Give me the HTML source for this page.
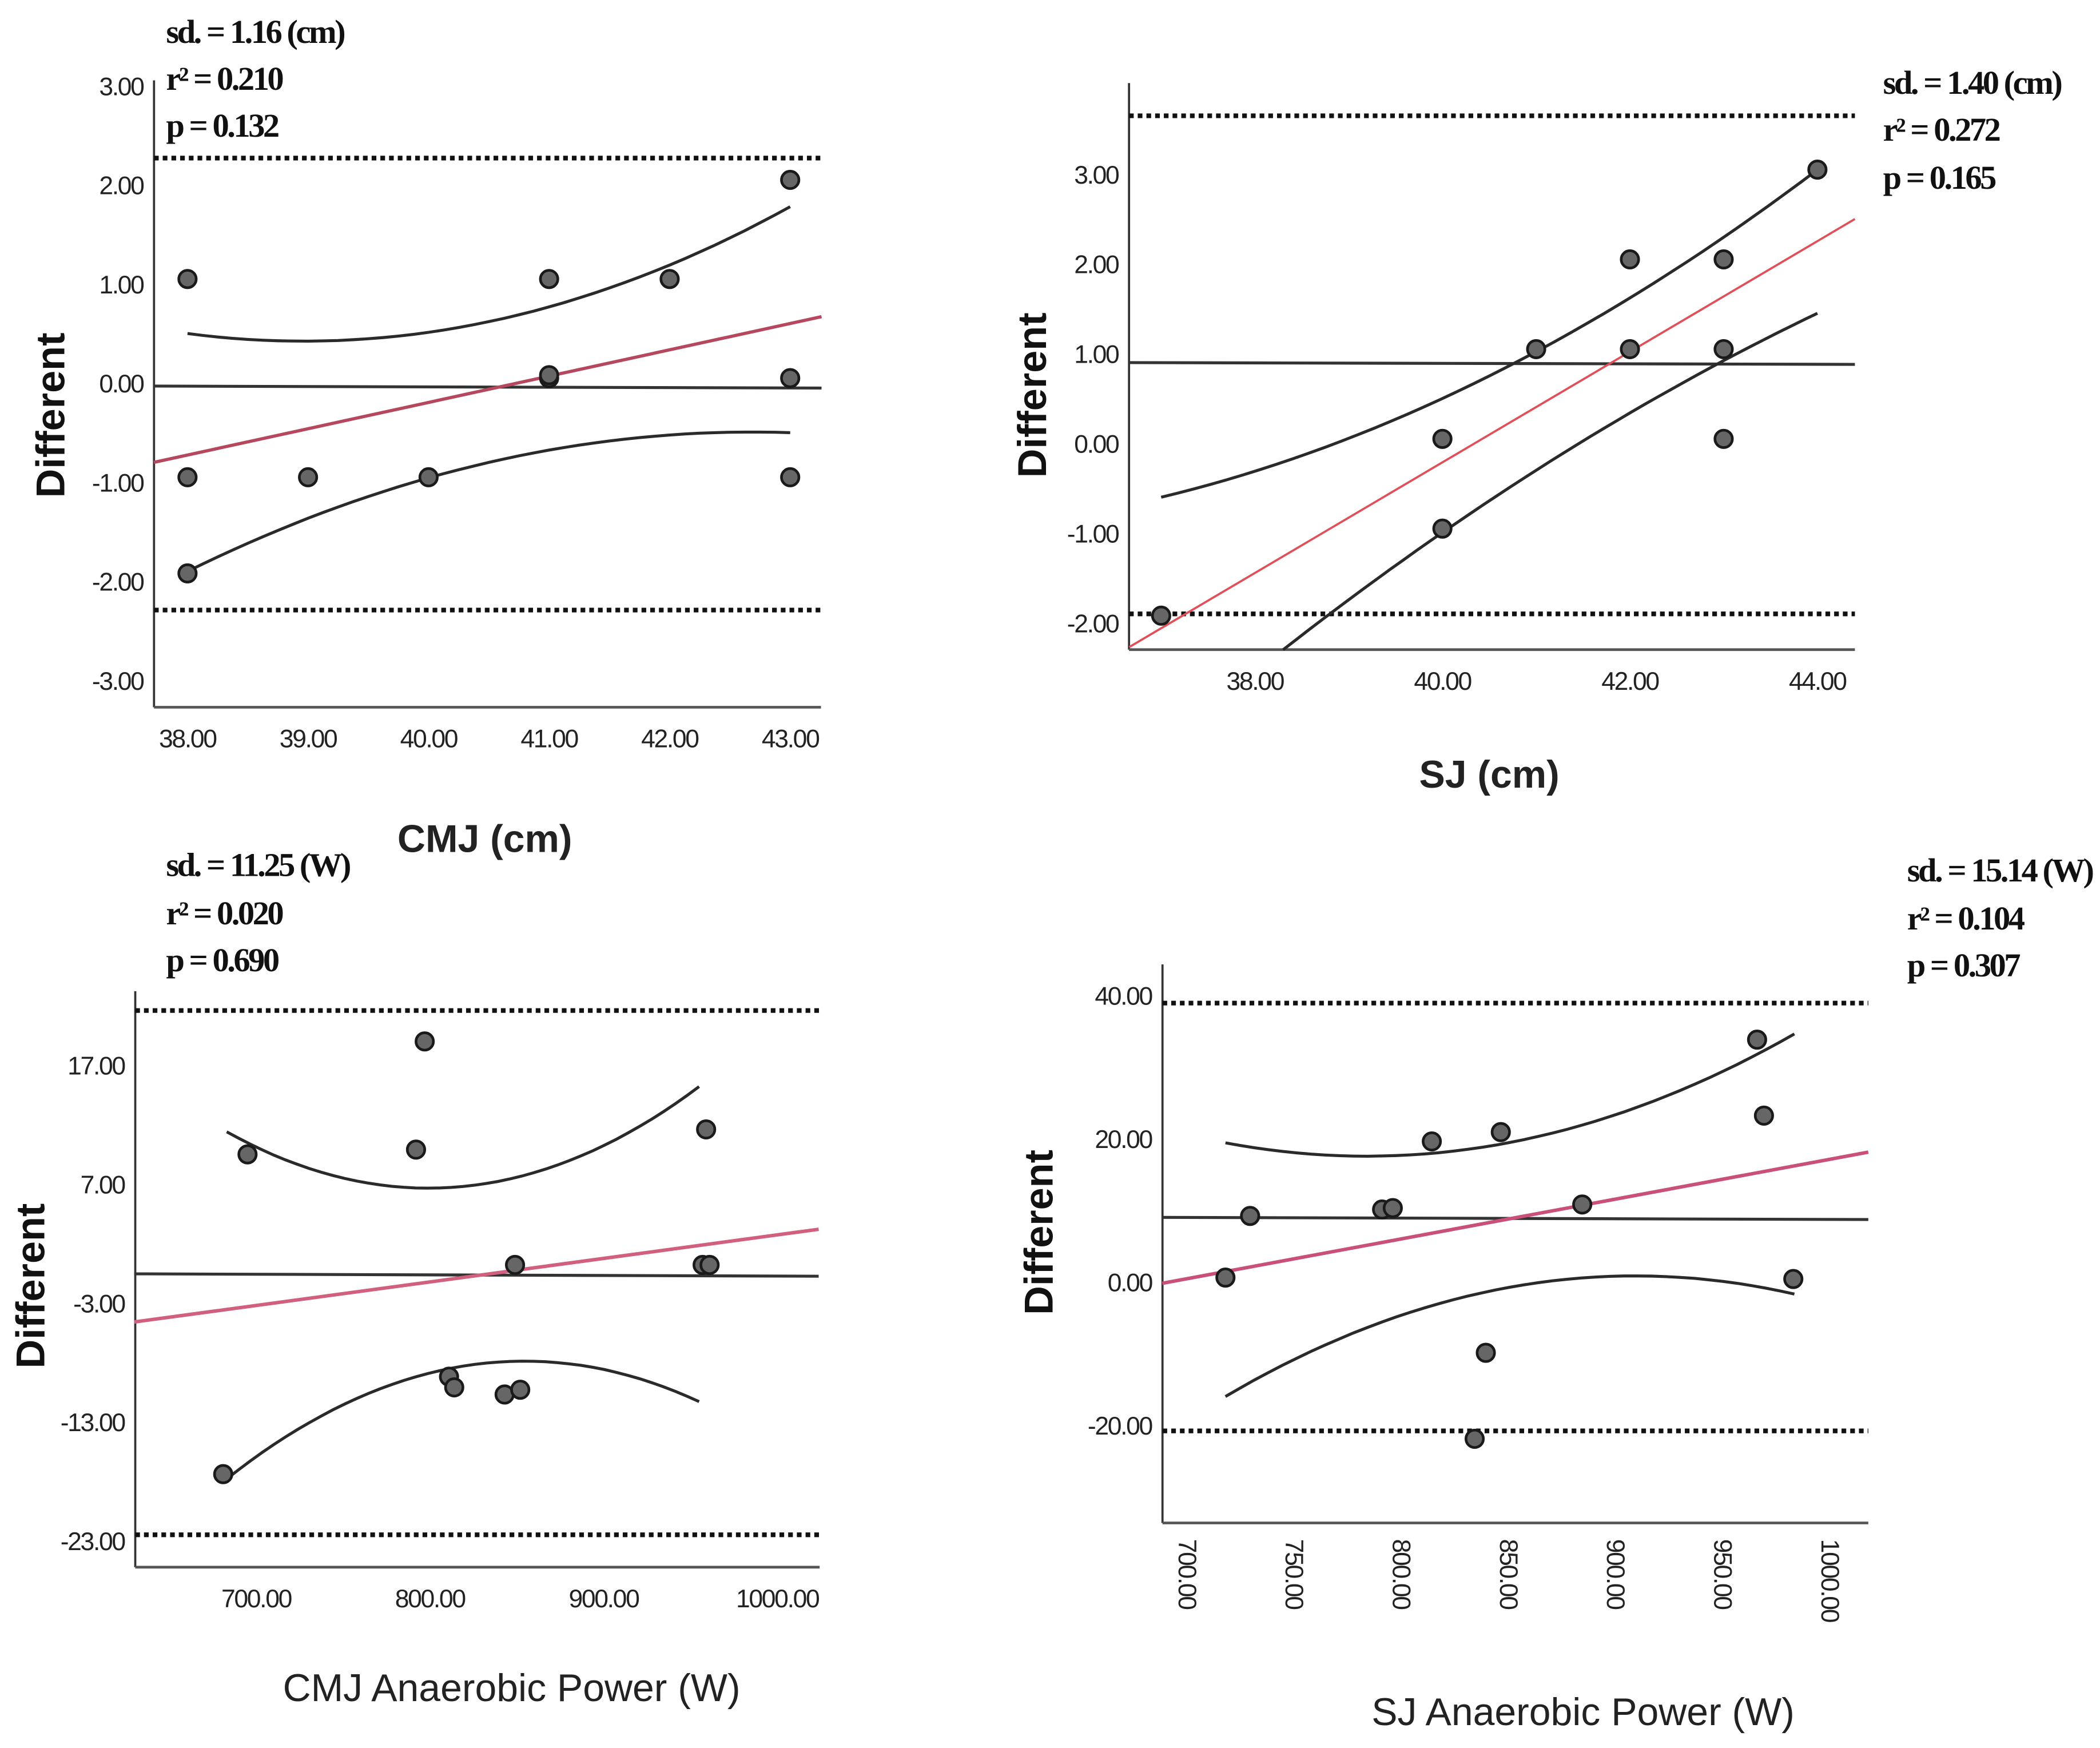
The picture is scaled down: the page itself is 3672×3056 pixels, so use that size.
<!DOCTYPE html>
<html><head><meta charset="utf-8"><style>
html,body{margin:0;padding:0;background:#fff;}
svg{display:block;}
.tick{font-family:"Liberation Sans",sans-serif;font-size:19px;fill:#222;letter-spacing:-1px;}
.stat{font-family:"Liberation Serif",serif;font-size:25px;font-weight:bold;fill:#111;letter-spacing:-1.5px;}
.ytitle{font-family:"Liberation Sans",sans-serif;font-size:30px;font-weight:bold;fill:#111;}
.xtitle{font-family:"Liberation Sans",sans-serif;font-size:29px;fill:#222;}
</style></head><body>
<svg id="chart" width="3672" height="3056" viewBox="0 0 1568 1305" preserveAspectRatio="none" xmlns="http://www.w3.org/2000/svg"></svg>
<script>
// ---- Panel 1: CMJ (cm)
const p1X=[38,38,38,39,40,41,41,41,42,43,43,43];
const p1Y=[1.05,-0.95,-1.92,-0.95,-0.95,1.05,0.05,0.08,1.05,2.05,0.05,-0.95];
const p1XTicks=[38,39,40,41,42,43];
const p1YTicks=[3,2,1,0,-1,-2,-3];
const p1Limits=[2.27,-2.29];
const p1Red=[[37.72,-0.8],[43.26,0.67]];
const p1Mean=[[37.72,-0.03],[43.26,-0.05]];
const p1Upper=[[38,0.5],[40.5,0.62],[43,1.78]];
const p1Lower=[[38,-1.9],[40.5,-0.8],[43,-0.5]];
// ---- Panel 2: SJ (cm)
const p2X=[37,40,40,41,42,42,43,43,43,44];
const p2Y=[-1.92,0.05,-0.95,1.05,2.05,1.05,2.05,1.05,0.05,3.05];
const p2XTicks=[38,40,42,44];
const p2YTicks=[3,2,1,0,-1,-2];
const p2Limits=[3.65,-1.9];
const p2Red=[[36.66,-2.27],[44.4,2.5]];
const p2Mean=[[36.66,0.9],[44.4,0.88]];
const p2Upper=[[37,-0.6],[40,0.5],[44,3.05]];
const p2Lower=[[38.3,-2.3],[41,-0.3],[44,1.45]];
// ---- Panel 3: CMJ Anaerobic Power (W)
const p3X=[681,695,792,797,811,814,843,852,849,957,961,959];
const p3Y=[-17.4,9.5,9.9,19.0,-9.2,-10.1,-10.7,-10.3,0.2,0.2,0.2,11.6];
const p3XTicks=[700,800,900,1000];
const p3YTicks=[17,7,-3,-13,-23];
const p3Limits=[21.6,-22.5];
const p3Red=[[629.8,-4.6],[1023.8,3.2]];
const p3Mean=[[629.8,-0.55],[1023.8,-0.75]];
const p3Upper=[[683,11.4],[810,6.7],[955,15.2]];
const p3Lower=[[683,-17.8],[850,-7.9],[955,-11.3]];
// ---- Panel 4: SJ Anaerobic Power (W)
const p4X=[717.5,729,790.6,795.6,813.8,846,884,839,833.8,965.6,968.8,982.5];
const p4Y=[0.6,9.2,10.1,10.3,19.6,20.9,10.8,-9.9,-21.9,33.8,23.2,0.4];
const p4XTicks=[700,750,800,850,900,950,1000];
const p4YTicks=[40,20,0,-20];
const p4Limits=[38.9,-20.8];
const p4Red=[[688,-0.2],[1017.5,18.1]];
const p4Mean=[[688,9.0],[1017.5,8.7]];
const p4Upper=[[717.5,19.4],[808,17.8],[983,34.6]];
const p4Lower=[[717.5,-16],[895.6,0.75],[983,-1.7]];

const NS="http://www.w3.org/2000/svg";
const svg=document.getElementById('chart');
function mk(tag,attrs,parent){const e=document.createElementNS(NS,tag);for(const k in attrs)e.setAttribute(k,attrs[k]);(parent||svg).appendChild(e);return e;}
function txt(s,attrs,parent){const e=mk('text',attrs,parent);e.textContent=s;return e;}
function parab(pts){const[[x0,y0],[x1,y1],[x2,y2]]=pts;
 return x=>y0*(x-x1)*(x-x2)/((x0-x1)*(x0-x2))+y1*(x-x0)*(x-x2)/((x1-x0)*(x1-x2))+y2*(x-x0)*(x-x1)/((x2-x0)*(x2-x1));}

function panel(cfg){
 const g=mk('g',{});
 
 
 const sx=v=>cfg.px0+(v-cfg.vx0)*cfg.kx;
 const sy=v=>cfg.py0-(v-cfg.vy0)*cfg.ky;
 // axes
 const ya=mk('line',{x1:cfg.left,y1:cfg.top,x2:cfg.left,y2:cfg.bottom,stroke:'#333','stroke-width':1.6},g);
 
 const xa=mk('line',{x1:cfg.left,y1:cfg.bottom,x2:cfg.right,y2:cfg.bottom,stroke:'#555','stroke-width':2},g);
 
 cfg.yTicks.forEach(v=>{const t=txt(v.toFixed(2),{x:cfg.left-8,y:sy(v)+7,'text-anchor':'end',class:'tick'},g);
  });
 cfg.xTicks.forEach(v=>{let t;
  if(cfg.rot){t=txt(v.toFixed(2),{x:0,y:0,class:'tick',transform:`translate(${sx(v)-7},${cfg.bottom+12}) rotate(90)`},g);}
  else t=txt(v.toFixed(2),{x:sx(v),y:cfg.bottom+30,'text-anchor':'middle',class:'tick'},g);
  });
 // limits
 cfg.limits.forEach(v=>{const l=mk('line',{x1:cfg.left,x2:cfg.right,y1:sy(v),y2:sy(v),stroke:'#111','stroke-width':3.5,'stroke-dasharray':'3.5 3'},g);
  });
 // mean
 const m=mk('line',{x1:sx(cfg.mean[0][0]),y1:sy(cfg.mean[0][1]),x2:sx(cfg.mean[1][0]),y2:sy(cfg.mean[1][1]),stroke:'#333','stroke-width':2.2},g);
 
 // curves
 [[cfg.upper,'upper-ci-curve'],[cfg.lower,'lower-ci-curve']].forEach(([pts,nm])=>{
  const f=parab(pts);const a=pts[0][0],b=pts[2][0];let d='';
  for(let i=0;i<=40;i++){const x=a+(b-a)*i/40;d+=(i?'L':'M')+sx(x).toFixed(1)+','+sy(f(x)).toFixed(1);}
  const p=mk('path',{d,fill:'none',stroke:'#2a2a2a','stroke-width':2.2},g);
  });
 // regression
 const r=mk('line',{x1:sx(cfg.red[0][0]),y1:sy(cfg.red[0][1]),x2:sx(cfg.red[1][0]),y2:sy(cfg.red[1][1]),stroke:cfg.redColor,'stroke-width':cfg.redW},g);
 
 // points
 cfg.xs.forEach((x,i)=>{const c=mk('circle',{cx:sx(x),cy:sy(cfg.ys[i]),r:6.5,fill:'#666',stroke:'#1a1a1a','stroke-width':2},g);
  });
 // titles
 const yt=txt('Different',{x:0,y:0,'text-anchor':'middle',class:'ytitle',transform:`translate(${cfg.ytx},${cfg.yty}) rotate(-90)`},g);
 
 const xt=txt(cfg.xTitle,{x:cfg.xtx,y:cfg.xty,'text-anchor':'middle',class:'xtitle','font-weight':cfg.xBold?'bold':'normal'},g);
 
 cfg.stats.forEach((s,i)=>{const t=txt(s,{x:cfg.stx,y:cfg.sty[i],class:'stat'},g);
  });
}

panel({name:'panel-cmj-cm',left:115,right:613,top:60,bottom:528,px0:140,vx0:38,kx:90,py0:286,vy0:0,ky:74,
 xs:p1X,ys:p1Y,xTicks:p1XTicks,yTicks:p1YTicks,limits:p1Limits,red:p1Red,mean:p1Mean,upper:p1Upper,lower:p1Lower,
 redColor:'#b5485e',redW:2.4,ytx:48,yty:310,xTitle:'CMJ (cm)',xtx:362,xty:636,xBold:true,
 stats:['sd. = 1.16 (cm)','r\u00B2 = 0.210','p = 0.132'],stx:124,sty:32,sty:[32,67,102]});
panel({name:'panel-sj-cm',left:843,right:1385,top:62,bottom:485,px0:1077,vx0:40,kx:70,py0:331,vy0:0,ky:67,
 xs:p2X,ys:p2Y,xTicks:p2XTicks,yTicks:p2YTicks,limits:p2Limits,red:p2Red,mean:p2Mean,upper:p2Upper,lower:p2Lower,
 redColor:'#e0505a',redW:1.6,ytx:781,yty:295,xTitle:'SJ (cm)',xtx:1112,xty:588,xBold:true,
 stats:['sd. = 1.40 (cm)','r\u00B2 = 0.272','p = 0.165'],stx:1406,sty:[70,105,141]});
panel({name:'panel-cmj-power',left:101,right:612,top:740,bottom:1170,px0:321,vx0:800,kx:1.297,py0:884,vy0:7,ky:8.875,
 xs:p3X,ys:p3Y,xTicks:p3XTicks,yTicks:p3YTicks,limits:p3Limits,red:p3Red,mean:p3Mean,upper:p3Upper,lower:p3Lower,
 redColor:'#d0607e',redW:2.6,ytx:33,yty:960,xTitle:'CMJ Anaerobic  Power (W)',xtx:382,xty:1270,xBold:false,
 stats:['sd. = 11.25 (W)','r\u00B2 = 0.020','p = 0.690'],stx:124,sty:[654,690,725]});
panel({name:'panel-sj-power',left:868,right:1395,top:720,bottom:1137,px0:887,vx0:700,kx:1.6,py0:957,vy0:0,ky:5.35,rot:true,
 xs:p4X,ys:p4Y,xTicks:p4XTicks,yTicks:p4YTicks,limits:p4Limits,red:p4Red,mean:p4Mean,upper:p4Upper,lower:p4Lower,
 redColor:'#c8507a',redW:2.6,ytx:786,yty:920,xTitle:'SJ Anaerobic  Power (W)',xtx:1182,xty:1288,xBold:false,
 stats:['sd. = 15.14 (W)','r\u00B2 = 0.104','p = 0.307'],stx:1424,sty:[658,694,729]});
</script>
</body></html>
